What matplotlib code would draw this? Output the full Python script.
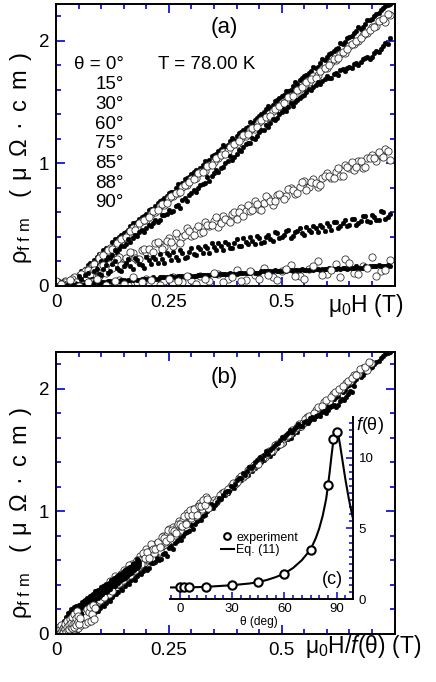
import numpy as np
import matplotlib
matplotlib.use('Agg')
import matplotlib.pyplot as plt
from matplotlib.ticker import MultipleLocator

plt.rcParams['font.family'] = ['Liberation Sans', 'DejaVu Sans']
plt.rcParams['mathtext.fontset'] = 'custom'
plt.rcParams['mathtext.rm'] = 'Liberation Sans'
plt.rcParams['mathtext.it'] = 'Liberation Sans:italic'
plt.rcParams['mathtext.bf'] = 'Liberation Sans:bold'

BLUE = '#1414dc'

# field sweep up (T)
H = np.array([0.00, 0.01, 0.02, 0.03, 0.04, 0.05, 0.06, 0.07, 0.08, 0.09,
              0.10, 0.11, 0.12, 0.13, 0.14, 0.15, 0.16, 0.17, 0.18, 0.19,
              0.20, 0.21, 0.22, 0.23, 0.24, 0.25, 0.26, 0.27, 0.28, 0.29,
              0.30, 0.31, 0.32, 0.33, 0.34, 0.35, 0.36, 0.37, 0.38, 0.39,
              0.40, 0.41, 0.42, 0.43, 0.44, 0.45, 0.46, 0.47, 0.48, 0.49,
              0.50, 0.51, 0.52, 0.53, 0.54, 0.55, 0.56, 0.57, 0.58, 0.59,
              0.60, 0.61, 0.62, 0.63, 0.64, 0.65, 0.66, 0.67, 0.68, 0.69,
              0.70, 0.71, 0.72, 0.73, 0.74])
# field sweep down (T)
H2 = np.array([0.005, 0.015, 0.025, 0.035, 0.045, 0.055, 0.065, 0.075, 0.085, 0.095,
               0.105, 0.115, 0.125, 0.135, 0.145, 0.155, 0.165, 0.175, 0.185, 0.195,
               0.205, 0.215, 0.225, 0.235, 0.245, 0.255, 0.265, 0.275, 0.285, 0.295,
               0.305, 0.315, 0.325, 0.335, 0.345, 0.355, 0.365, 0.375, 0.385, 0.395,
               0.405, 0.415, 0.425, 0.435, 0.445, 0.455, 0.465, 0.475, 0.485, 0.495,
               0.505, 0.515, 0.525, 0.535, 0.545, 0.555, 0.565, 0.575, 0.585, 0.595,
               0.605, 0.615, 0.625, 0.635, 0.645, 0.655, 0.665, 0.675, 0.685, 0.695,
               0.705, 0.715, 0.725, 0.735])

theta = [0, 15, 30, 60, 75, 85, 88, 90]

rho_0 = [0.00, 0.02, 0.01, 0.05, 0.06, 0.10, 0.11, 0.17, 0.18, 0.24,
         0.26, 0.31, 0.30, 0.38, 0.40, 0.43, 0.46, 0.51, 0.52, 0.56,
         0.59, 0.63, 0.65, 0.69, 0.72, 0.76, 0.77, 0.83, 0.84, 0.88,
         0.91, 0.95, 0.96, 1.02, 1.03, 1.07, 1.10, 1.15, 1.15, 1.21,
         1.22, 1.26, 1.29, 1.34, 1.35, 1.39, 1.42, 1.47, 1.48, 1.52,
         1.55, 1.59, 1.60, 1.66, 1.68, 1.71, 1.74, 1.79, 1.79, 1.85,
         1.87, 1.90, 1.93, 1.98, 1.99, 2.03, 2.06, 2.11, 2.11, 2.17,
         2.18, 2.22, 2.25, 2.28, 2.30]
rho_0d = [0.01, 0.00, 0.03, 0.06, 0.07, 0.12, 0.14, 0.19, 0.21, 0.26,
          0.29, 0.30, 0.36, 0.38, 0.42, 0.44, 0.49, 0.51, 0.55, 0.57,
          0.62, 0.63, 0.68, 0.70, 0.73, 0.77, 0.80, 0.81, 0.87, 0.89,
          0.93, 0.94, 0.99, 1.01, 1.06, 1.08, 1.12, 1.13, 1.18, 1.19,
          1.25, 1.27, 1.30, 1.33, 1.37, 1.40, 1.44, 1.45, 1.51, 1.53,
          1.56, 1.59, 1.63, 1.65, 1.70, 1.72, 1.75, 1.78, 1.82, 1.84,
          1.89, 1.92, 1.94, 1.97, 2.02, 2.04, 2.08, 2.10, 2.14, 2.17,
          2.20, 2.23, 2.27, 2.29]
rho_15 = [0.02, 0.00, 0.04, 0.01, 0.05, 0.08, 0.09, 0.14, 0.16, 0.19,
          0.25, 0.26, 0.31, 0.32, 0.37, 0.39, 0.42, 0.47, 0.48, 0.53,
          0.54, 0.59, 0.60, 0.65, 0.66, 0.72, 0.73, 0.76, 0.81, 0.82,
          0.87, 0.88, 0.93, 0.94, 0.99, 1.01, 1.04, 1.09, 1.10, 1.15,
          1.16, 1.21, 1.22, 1.27, 1.28, 1.34, 1.35, 1.38, 1.43, 1.44,
          1.49, 1.50, 1.55, 1.56, 1.61, 1.63, 1.66, 1.71, 1.72, 1.77,
          1.78, 1.83, 1.84, 1.89, 1.90, 1.96, 1.97, 2.00, 2.05, 2.06,
          2.11, 2.12, 2.17, 2.15, 2.21]
rho_15d = [0.03, 0.01, 0.00, 0.04, 0.06, 0.07, 0.12, 0.14, 0.18, 0.23,
           0.25, 0.29, 0.30, 0.35, 0.38, 0.40, 0.45, 0.46, 0.51, 0.54,
           0.56, 0.61, 0.62, 0.67, 0.68, 0.73, 0.76, 0.77, 0.82, 0.85,
           0.87, 0.92, 0.93, 0.98, 0.99, 1.04, 1.07, 1.08, 1.13, 1.16,
           1.18, 1.23, 1.24, 1.29, 1.30, 1.35, 1.38, 1.39, 1.44, 1.47,
           1.49, 1.54, 1.55, 1.60, 1.62, 1.66, 1.69, 1.70, 1.75, 1.78,
           1.80, 1.85, 1.86, 1.91, 1.93, 1.97, 2.00, 2.02, 2.06, 2.09,
           2.11, 2.16, 2.18, 2.22]
rho_30 = [0.01, -0.01, 0.03, 0.00, 0.04, 0.03, 0.09, 0.08, 0.14, 0.15,
          0.20, 0.21, 0.23, 0.29, 0.30, 0.33, 0.38, 0.39, 0.41, 0.46,
          0.47, 0.49, 0.54, 0.54, 0.58, 0.62, 0.61, 0.66, 0.70, 0.69,
          0.76, 0.77, 0.82, 0.84, 0.86, 0.92, 0.93, 0.97, 1.02, 1.03,
          1.08, 1.10, 1.16, 1.17, 1.20, 1.26, 1.27, 1.30, 1.36, 1.37,
          1.42, 1.43, 1.49, 1.50, 1.53, 1.56, 1.61, 1.62, 1.66, 1.67,
          1.71, 1.70, 1.74, 1.76, 1.75, 1.79, 1.81, 1.80, 1.85, 1.87,
          1.87, 1.92, 1.93, 1.98, 2.02]
rho_30d = [0.02, 0.00, 0.01, 0.03, 0.02, 0.06, 0.07, 0.11, 0.12, 0.17,
           0.19, 0.24, 0.25, 0.27, 0.33, 0.34, 0.36, 0.42, 0.44, 0.44,
           0.50, 0.51, 0.52, 0.58, 0.59, 0.60, 0.65, 0.64, 0.72, 0.74,
           0.78, 0.80, 0.83, 0.89, 0.90, 0.95, 0.96, 1.00, 1.06, 1.05,
           1.11, 1.13, 1.17, 1.21, 1.22, 1.27, 1.31, 1.33, 1.35, 1.40,
           1.44, 1.46, 1.47, 1.52, 1.55, 1.58, 1.60, 1.64, 1.65, 1.69,
           1.70, 1.73, 1.72, 1.77, 1.78, 1.78, 1.82, 1.83, 1.86, 1.85,
           1.90, 1.91, 1.96, 1.97]
rho_60 = [0.03, 0.00, 0.03, 0.01, 0.07, 0.03, 0.08, 0.13, 0.08, 0.12,
          0.16, 0.11, 0.18, 0.17, 0.24, 0.18, 0.23, 0.27, 0.21, 0.29,
          0.28, 0.27, 0.35, 0.34, 0.32, 0.39, 0.33, 0.41, 0.40, 0.47,
          0.41, 0.46, 0.43, 0.52, 0.49, 0.53, 0.48, 0.57, 0.54, 0.59,
          0.55, 0.64, 0.61, 0.61, 0.69, 0.63, 0.68, 0.72, 0.66, 0.74,
          0.73, 0.73, 0.80, 0.75, 0.81, 0.86, 0.81, 0.87, 0.81, 0.88,
          0.92, 0.88, 0.93, 0.90, 0.99, 0.96, 0.95, 1.02, 0.96, 1.04,
          1.07, 1.02, 1.07, 1.12, 1.03]
rho_60d = [0.01, 0.02, 0.01, 0.06, 0.03, 0.10, 0.05, 0.10, 0.13, 0.08,
           0.17, 0.15, 0.15, 0.22, 0.17, 0.23, 0.28, 0.23, 0.22, 0.30,
           0.30, 0.28, 0.36, 0.30, 0.37, 0.36, 0.43, 0.35, 0.42, 0.45,
           0.42, 0.49, 0.44, 0.50, 0.50, 0.56, 0.51, 0.55, 0.52, 0.60,
           0.60, 0.57, 0.66, 0.62, 0.67, 0.62, 0.73, 0.69, 0.69, 0.75,
           0.71, 0.79, 0.78, 0.76, 0.85, 0.78, 0.85, 0.84, 0.82, 0.90,
           0.90, 0.88, 0.96, 0.90, 0.97, 1.01, 0.97, 1.02, 0.97, 1.04,
           1.04, 1.09, 1.05, 1.10]
rho_75 = [0.00, 0.03, 0.00, 0.05, 0.01, 0.08, 0.03, 0.11, 0.06, 0.14,
          0.09, 0.17, 0.12, 0.20, 0.13, 0.16, 0.22, 0.14, 0.21, 0.17,
          0.24, 0.18, 0.22, 0.26, 0.19, 0.25, 0.28, 0.21, 0.27, 0.24,
          0.31, 0.25, 0.30, 0.33, 0.27, 0.32, 0.35, 0.29, 0.34, 0.31,
          0.38, 0.33, 0.36, 0.40, 0.34, 0.39, 0.36, 0.42, 0.37, 0.43,
          0.40, 0.45, 0.39, 0.44, 0.47, 0.42, 0.46, 0.49, 0.44, 0.48,
          0.51, 0.46, 0.52, 0.49, 0.54, 0.50, 0.55, 0.51, 0.57, 0.53,
          0.58, 0.54, 0.61, 0.55, 0.59]
rho_75d = [0.01, 0.02, 0.00, 0.04, 0.02, 0.06, 0.09, 0.05, 0.12, 0.10,
           0.14, 0.11, 0.18, 0.15, 0.12, 0.19, 0.16, 0.23, 0.18, 0.15,
           0.21, 0.24, 0.19, 0.22, 0.27, 0.21, 0.24, 0.29, 0.23, 0.28,
           0.26, 0.32, 0.27, 0.31, 0.35, 0.29, 0.33, 0.36, 0.31, 0.35,
           0.33, 0.39, 0.34, 0.37, 0.41, 0.35, 0.40, 0.38, 0.44, 0.39,
           0.42, 0.46, 0.41, 0.45, 0.43, 0.48, 0.44, 0.47, 0.50, 0.45,
           0.49, 0.52, 0.47, 0.51, 0.49, 0.55, 0.50, 0.53, 0.57, 0.52,
           0.56, 0.54, 0.60, 0.56]
# 85 deg: every second field point of the up sweep
rho_85 = [0.04, 0.00, 0.02, 0.01, 0.03, 0.00, 0.02, 0.05, 0.01, 0.03,
          0.06, 0.02, 0.04, 0.07, 0.03, 0.05, 0.08, 0.04, 0.10, 0.06,
          0.13, 0.05, 0.09, 0.15, 0.07, 0.12, 0.17, 0.08, 0.14, 0.20,
          0.10, 0.18, 0.22, 0.11, 0.16, 0.24, 0.12, 0.21]
rho_88 = [0.00, 0.01, 0.00, 0.01, 0.01, 0.02, 0.01, 0.02, 0.02, 0.03,
          0.03, 0.03, 0.04, 0.04, 0.04, 0.05, 0.05, 0.05, 0.05, 0.06,
          0.06, 0.06, 0.06, 0.07, 0.07, 0.07, 0.07, 0.08, 0.08, 0.08,
          0.08, 0.08, 0.09, 0.09, 0.09, 0.09, 0.10, 0.10, 0.10, 0.10,
          0.10, 0.11, 0.11, 0.11, 0.11, 0.11, 0.12, 0.12, 0.12, 0.12,
          0.12, 0.12, 0.13, 0.13, 0.13, 0.13, 0.13, 0.13, 0.14, 0.14,
          0.14, 0.14, 0.14, 0.14, 0.15, 0.15, 0.15, 0.15, 0.15, 0.15,
          0.16, 0.16, 0.16, 0.16, 0.16]
rho_88d = [0.01, 0.00, 0.01, 0.01, 0.02, 0.01, 0.02, 0.02, 0.03, 0.02,
           0.03, 0.04, 0.03, 0.04, 0.05, 0.04, 0.05, 0.06, 0.05, 0.06,
           0.06, 0.07, 0.06, 0.07, 0.07, 0.08, 0.07, 0.08, 0.08, 0.09,
           0.08, 0.09, 0.09, 0.09, 0.10, 0.09, 0.10, 0.10, 0.11, 0.10,
           0.11, 0.11, 0.11, 0.12, 0.11, 0.12, 0.12, 0.12, 0.13, 0.12,
           0.13, 0.13, 0.12, 0.13, 0.14, 0.13, 0.14, 0.14, 0.13, 0.14,
           0.15, 0.14, 0.15, 0.15, 0.14, 0.15, 0.16, 0.15, 0.16, 0.16,
           0.16, 0.17, 0.16, 0.17]
# 90 deg: the remaining field points of the up sweep
rho_90 = [0.02, 0.05, 0.00, 0.03, 0.06, 0.01, 0.04, 0.02, 0.07, 0.03,
          0.05, 0.01, 0.06, 0.04, 0.08, 0.02, 0.06, 0.11, 0.03, 0.07,
          0.04, 0.12, 0.06, 0.09, 0.05, 0.14, 0.08, 0.06, 0.16, 0.09,
          0.13, 0.07, 0.19, 0.10, 0.15, 0.08, 0.13]

series = [  # (field, rho, filled, theta index)
    (H, rho_0, True, 0), (H2, rho_0d, True, 0),
    (H, rho_15, False, 1), (H2, rho_15d, False, 1),
    (H, rho_30, True, 2), (H2, rho_30d, True, 2),
    (H, rho_60, False, 3), (H2, rho_60d, False, 3),
    (H, rho_75, True, 4), (H2, rho_75d, True, 4),
    (H[::2], rho_85, False, 5),
    (H, rho_88, True, 6), (H2, rho_88d, True, 6),
    (H[1::2], rho_90, False, 7),
]

# scaling factor used for panel (b)
f_b = [1.0, 1.06, 1.12, 2.2, 4.0, 8.5, 13.5, 14.0]

# inset (c): measured f(theta) and Eq. (11) curve
theta_c = [0, 2.5, 5, 15, 30, 45, 60, 75, 85, 88, 90]
f_c = [0.82, 0.82, 0.83, 0.86, 0.98, 1.2, 1.8, 3.5, 8.1, 11.35, 11.86]
theta_eq = [-6, 0, 10, 20, 30, 40, 45, 50, 55, 60, 65, 70, 75, 78, 80, 82,
            84, 85, 86, 87, 88, 89, 90, 91, 92, 93, 94, 95, 96, 97, 98, 99, 100]
f_eq = [0.82, 0.82, 0.84, 0.9, 0.98, 1.1, 1.2, 1.35, 1.55, 1.8, 2.2, 2.75,
        3.5, 4.3, 5.0, 5.9, 7.1, 8.0, 9.0, 10.1, 11.1, 11.7, 11.9, 11.6,
        10.9, 10.1, 9.3, 8.5, 7.8, 7.1, 6.5, 5.9, 5.4]

YLABEL = r'$\mathrm{ρ}_{\mathrm{f\ f\ m}}\quad\mathrm{(\enspace μ\enspace Ω\enspace ·\enspace c\enspace m\enspace )}$'


def points(ax, x, y, full):
    if full:
        ax.plot(x, y, 'o', ms=3.4, mfc='k', mec='k', mew=0.3)
    else:
        ax.plot(x, y, 'o', ms=5.2, mfc='white', mec='#333333', mew=0.6)


def style(ax):
    for s in ax.spines.values():
        s.set_linewidth(1.4)
    ax.set_xlim(0, 0.75)
    ax.set_ylim(0, 2.3)
    ax.set_xticks([0, 0.25, 0.5, 0.75])
    ax.set_xticklabels(['0', '0.25', '0.5', ''])
    ax.set_yticks([0, 1, 2])
    ax.xaxis.set_minor_locator(MultipleLocator(0.05))
    ax.yaxis.set_minor_locator(MultipleLocator(0.2))
    ax.tick_params(which='both', direction='in', top=True, right=True,
                   color=BLUE, width=1.3, labelsize=13.5)
    ax.tick_params(which='major', length=6.5)
    ax.tick_params(which='minor', length=3.5)
    ax.tick_params(axis='x', pad=6)
    ax.tick_params(axis='y', pad=5)


fig = plt.figure(figsize=(4.36, 6.82), dpi=100)
ax_a = fig.add_axes([56 / 436, 396 / 682, 338.5 / 436, 282 / 682])
ax_b = fig.add_axes([56 / 436, 48 / 682, 338.5 / 436, 282 / 682])

# panel (a)
for x, y, full, k in series:
    points(ax_a, x, y, full)
style(ax_a)
ax_a.text(0.497, 0.918, '(a)', transform=ax_a.transAxes, ha='center',
          va='center', fontsize=16)
ax_a.text(0.30, 0.784, 'T = 78.00 K', transform=ax_a.transAxes, ha='left',
          va='center', fontsize=13.5)
for i, t in enumerate(theta):
    lab = 'θ = %d°' % t if i == 0 else '%d°' % t
    ax_a.text(0.2, 0.784 - 0.0699 * i, lab, transform=ax_a.transAxes,
              ha='right', va='center', fontsize=13.5)
ax_a.text(0.803, -0.092, r'$\mathrm{μ_0}$H (T)', transform=ax_a.transAxes,
          ha='left', va='baseline', fontsize=16.5)
fig.text(21 / 436, 1 - 158 / 682, YLABEL, rotation=90,
         ha='center', va='center', fontsize=17)

# panel (b)
for x, y, full, k in series:
    points(ax_b, np.asarray(x) / f_b[k], y, full)
style(ax_b)
ax_b.text(0.497, 0.911, '(b)', transform=ax_b.transAxes, ha='center',
          va='center', fontsize=16)
ax_b.text(0.735, -0.067, r'$\mathrm{μ_0}$H/$\mathit{f}$(θ) (T)',
          transform=ax_b.transAxes, ha='left', va='baseline', fontsize=16.5)
fig.text(21 / 436, 1 - 513 / 682, YLABEL, rotation=90,
         ha='center', va='center', fontsize=17)

# inset (c)
ax_c = fig.add_axes([170 / 436, 83 / 682, 183 / 436, 182 / 682])
ax_c.patch.set_alpha(0)
ax_c.plot(theta_eq, f_eq, '-', color='k', lw=1.5, label='Eq. (11)')
ax_c.plot(theta_c, f_c, 'o', ms=6, mfc='white', mec='k', mew=1.5,
          label='experiment')
ax_c.set_xlim(-5.7, 99.4)
ax_c.set_ylim(0, 12.9)
ax_c.spines['left'].set_visible(False)
ax_c.spines['top'].set_visible(False)
ax_c.spines['right'].set_linewidth(1.4)
ax_c.spines['bottom'].set_linewidth(1.4)
ax_c.yaxis.tick_right()
ax_c.set_xticks([0, 30, 60, 90])
ax_c.set_yticks([0, 5, 10])
ax_c.xaxis.set_minor_locator(MultipleLocator(5))
ax_c.yaxis.set_minor_locator(MultipleLocator(0.5))
ax_c.tick_params(which='both', direction='in', color=BLUE, width=1.2,
                 labelsize=9.5)
ax_c.tick_params(which='major', length=5)
ax_c.tick_params(which='minor', length=3)
ax_c.tick_params(axis='y', pad=4)
ax_c.tick_params(axis='x', pad=3)
ax_c.text(0.486, -0.126, 'θ (deg)', transform=ax_c.transAxes, ha='center',
          va='center', fontsize=8.6)
ax_c.text(1.016, 0.956, r'$\mathit{f}$(θ)', transform=ax_c.transAxes,
          ha='left', va='center', fontsize=13)
ax_c.text(0.885, 0.105, '(c)', transform=ax_c.transAxes, ha='center',
          va='center', fontsize=13)
h, l = ax_c.get_legend_handles_labels()
ax_c.legend(h[::-1], l[::-1], loc='upper left', bbox_to_anchor=(0.28, 0.37),
            frameon=False, fontsize=9, handlelength=1.0, handletextpad=0.2,
            labelspacing=0.05, borderpad=0, borderaxespad=0, markerscale=0.8)

fig.savefig('out.png', dpi=100)
